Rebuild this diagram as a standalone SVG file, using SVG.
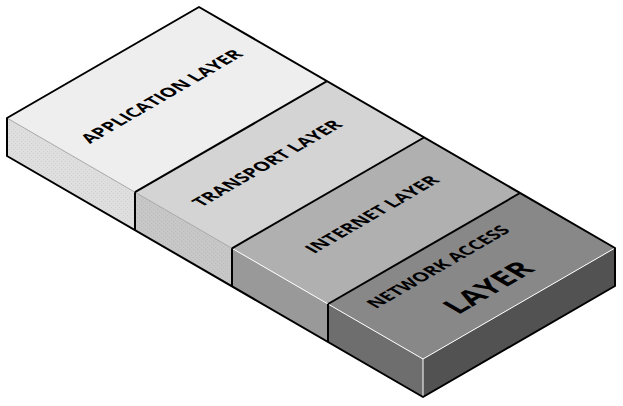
<svg xmlns="http://www.w3.org/2000/svg" width="623" height="406" viewBox="0 0 623 406">
<defs>
<pattern id="dots" width="4" height="4" patternUnits="userSpaceOnUse">
<rect x="1" y="1" width="1" height="1" fill="#000" fill-opacity="0.06"/>
<rect x="3" y="3" width="1" height="1" fill="#000" fill-opacity="0.05"/>
</pattern>
<style>
.lbl{font-family:"Open Sans","Liberation Sans",sans-serif;font-weight:bold;font-size:18px;fill:#000;text-anchor:middle}
.big{font-size:29px}
.edge{fill:none;stroke:#000;stroke-width:2;stroke-linejoin:round}
.hl{fill:none;stroke:#fff;stroke-width:1}
.hlg{fill:none;stroke:#a8a8a8;stroke-width:1}
</style>
</defs>
<rect width="623" height="406" fill="#fff"/>
<g id="application-layer">
<polygon points="7,118 199,7 327,81.2 135,192.2" fill="#eeeeee"/>
<polygon points="7,118 135,192.2 135,230.2 7,156" fill="#dedede"/>
<polygon points="7,118 135,192.2 135,230.2 7,156" fill="url(#dots)"/>
<line class="hlg" x1="7" y1="118" x2="135" y2="192.2"/>
<text class="lbl" textLength="178" lengthAdjust="spacingAndGlyphs" transform="matrix(0.866 -0.5 0.866 0.5 167 99.5)">APPLICATION LAYER</text>
</g>
<g id="transport-layer">
<polygon points="135,192.2 327,81.2 424,137.5 232,248.3" fill="#d4d4d4"/>
<polygon points="135,192.2 232,248.3 232,286.3 135,230.2" fill="#c7c7c7"/>
<polygon points="135,192.2 232,248.3 232,286.3 135,230.2" fill="url(#dots)"/>
<line class="hlg" x1="135" y1="192.2" x2="232" y2="248.3"/>
<text class="lbl" textLength="164" lengthAdjust="spacingAndGlyphs" transform="matrix(0.866 -0.5 0.866 0.5 272.5 166.5)">TRANSPORT LAYER</text>
</g>
<g id="internet-layer">
<polygon points="232,248.3 424,137.5 520,193 328,304" fill="#b0b0b0"/>
<polygon points="232,248.3 328,304 328,342 232,286.3" fill="#999999"/>
<line class="hl" x1="232" y1="248.3" x2="328" y2="304"/>
<text class="lbl" textLength="146" lengthAdjust="spacingAndGlyphs" transform="matrix(0.866 -0.5 0.866 0.5 377.5 217.5)">INTERNET LAYER</text>
</g>
<g id="network-access-layer">
<polygon points="328,304 520,193 615,248 423,359" fill="#888888"/>
<polygon points="328,304 423,359 423,397 328,342" fill="#6e6e6e"/>
<polygon points="423,359 615,248 615,286 423,397" fill="#525252"/>
<polyline class="hl" points="328,304 423,359 615,248"/>
<line class="hl" x1="423" y1="359" x2="423" y2="397"/>
<text class="lbl" textLength="156" lengthAdjust="spacingAndGlyphs" transform="matrix(0.866 -0.5 0.866 0.5 443.5 270)">NETWORK ACCESS</text>
<text class="lbl big" textLength="90" lengthAdjust="spacingAndGlyphs" transform="matrix(0.866 -0.5 0.866 0.5 497 292.5)">LAYER</text>
</g>
<g id="outlines">
<line class="edge" x1="135" y1="192.2" x2="327" y2="81.2"/>
<line class="edge" x1="232" y1="248.3" x2="424" y2="137.5"/>
<line class="edge" x1="328" y1="304" x2="520" y2="193"/>
<line class="edge" x1="135" y1="192.2" x2="135" y2="230.2"/>
<line class="edge" x1="232" y1="248.3" x2="232" y2="286.3"/>
<line class="edge" x1="328" y1="304" x2="328" y2="342"/>
<polygon class="edge" points="7,118 199,7 615,248 615,286 423,397 7,156"/>
</g>
</svg>
